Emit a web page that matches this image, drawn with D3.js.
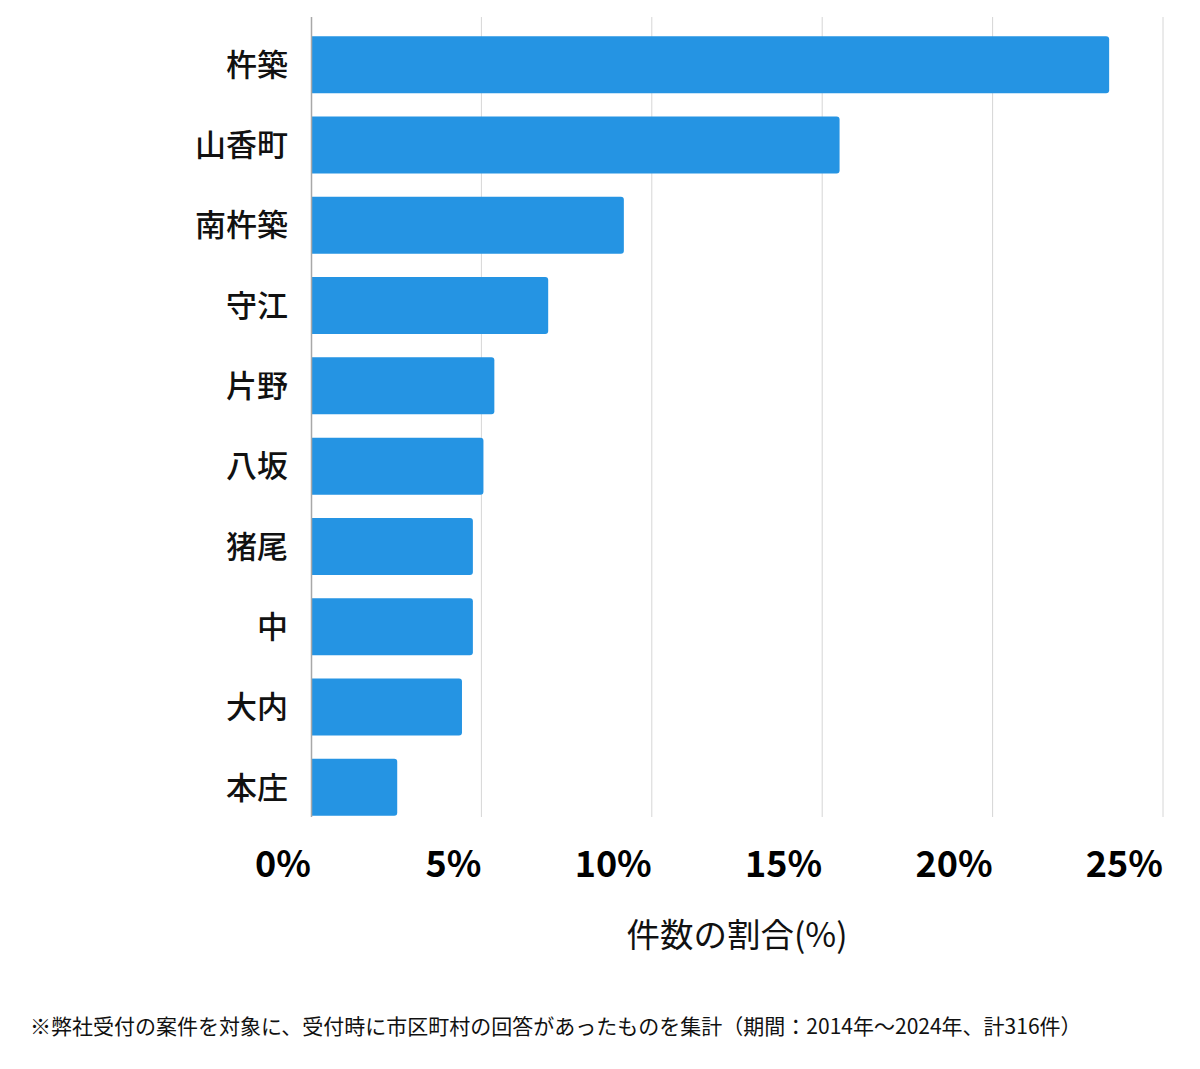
<!DOCTYPE html>
<html>
<head>
<meta charset="utf-8">
<script src="https://cdn.jsdelivr.net/npm/d3@7"></script>
<style>
  body { margin: 0; background: #fff; }
  text { font-family: "Noto Sans CJK JP", "Noto Sans", sans-serif; }
</style>
</head>
<body>
<svg id="chart" width="1200" height="1069"></svg>
<script>
const areas = ['杵築', '山香町', '南杵築', '守江', '片野', '八坂', '猪尾', '中', '大内', '本庄']
const shares = [23.42, 15.51, 9.18, 6.96, 5.38, 5.06, 4.75, 4.75, 4.43, 2.53]
const ticks = [0, 5, 10, 15, 20, 25]

const svg = d3.select('#chart')
const left = 311, right = 1163
const gridTop = 17, gridBottom = 817

let x = d3.scaleLinear().domain([0, 25]).range([left, right])
let y = d3.scaleBand().domain(areas).range([24.5, 827.5]).paddingInner(0.29).paddingOuter(0.145)

// grid lines
svg.selectAll('line.grid')
  .data(ticks.slice(1))
  .enter().append('line')
  .attr('class', 'grid')
  .attr('x1', d => x(d)).attr('x2', d => x(d))
  .attr('y1', gridTop).attr('y2', gridBottom)
  .attr('stroke', '#d6d6d6')
  .attr('stroke-width', 1)

// bars, rounded on the right end only
let r = 3
svg.selectAll('path.bar')
  .data(areas)
  .enter().append('path')
  .attr('class', 'bar')
  .attr('fill', '#2594e3')
  .attr('d', function(d, i) {
    let w = x(shares[i]), t = y(d), h = y.bandwidth()
    return 'M' + left + ',' + t + 'H' + (w - r) + 'Q' + w + ',' + t + ' ' + w + ',' + (t + r) +
      'V' + (t + h - r) + 'Q' + w + ',' + (t + h) + ' ' + (w - r) + ',' + (t + h) + 'H' + left + 'Z'
  })

// baseline
svg.append('line')
  .attr('x1', left + 0.5).attr('x2', left + 0.5)
  .attr('y1', gridTop).attr('y2', gridBottom)
  .attr('stroke', '#a8a8a8')
  .attr('stroke-width', 1.5)

// category labels
svg.selectAll('text.cat')
  .data(areas)
  .enter().append('text')
  .attr('class', 'cat')
  .attr('x', 288)
  .attr('y', d => y(d) + y.bandwidth() / 2)
  .attr('dy', '0.36em')
  .attr('text-anchor', 'end')
  .attr('font-size', 31)
  .attr('font-weight', 500)
  .attr('fill', '#111')
  .text(d => d)

// tick labels
svg.selectAll('text.tick')
  .data(ticks)
  .enter().append('text')
  .attr('class', 'tick')
  .attr('x', d => x(d))
  .attr('y', 877)
  .attr('text-anchor', 'end')
  .attr('font-size', 36)
  .attr('font-weight', 'bold')
  .attr('fill', '#000')
  .text(d => d + '%')

svg.append('text')
  .attr('x', 737)
  .attr('y', 947)
  .attr('text-anchor', 'middle')
  .attr('font-size', 33.5)
  .attr('fill', '#111')
  .text('件数の割合(%)')

svg.append('text')
  .attr('x', 30)
  .attr('y', 1034)
  .attr('font-size', 21)
  .attr('fill', '#111')
  .text('※弊社受付の案件を対象に、受付時に市区町村の回答があったものを集計（期間：2014年～2024年、計316件）')
</script>
</body>
</html>
